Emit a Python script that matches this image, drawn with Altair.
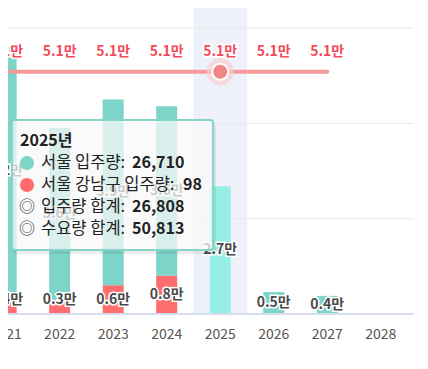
import altair as alt
import pandas as pd

# ---- data ----
years = [2021, 2022, 2023, 2024, 2025, 2026, 2027, 2028]
seoul_supply = [52000, 36000, 39000, 35600, 26710, 4600, 3800, 0]
gangnam_supply = [4000, 3000, 6000, 8000, 98, 0, 0, 0]
demand_years = [2021, 2022, 2023, 2024, 2025, 2026, 2027]
demand = [50813, 50813, 50813, 50813, 50813, 50813, 50813]
highlight_year = 2025
grid_values = [20000, 40000, 60000]

tip_title = "2025년"
tip_labels = ["서울 입주량: ", "서울 강남구 입주량: ", "입주량 합계: ", "수요량 합계: "]
tip_values = ["26,710", "98", "26,808", "50,813"]
tip_markers = ["dot", "dot", "ring", "ring"]
tip_colors = ["#7dd4c9", "#ff6b6b", "#333333", "#333333"]

FONT = "Noto Sans CJK KR"
W, H = 406, 306
TEAL = "#7dd4c9"
TEAL_HI = "#97eee4"
RED = "#ff6e6e"

bars = pd.DataFrame({"year": years, "seoul": seoul_supply, "gangnam": gangnam_supply})
dem = pd.DataFrame({"year": demand_years, "demand": demand})
grid = pd.DataFrame({"v": grid_values})
hl = pd.DataFrame({"year": [highlight_year]})

xs = alt.Scale(domain=[2021.128, 2028.528], nice=False, zero=False)
ys = alt.Scale(domain=[0, 64200], nice=False)


def XQ(field):
    return alt.X(field, scale=xs, axis=None)


def YQ(field):
    return alt.Y(field, scale=ys, axis=None)


band = alt.Chart(hl).transform_calculate(
    x0="datum.year - 0.5", x1="datum.year + 0.5"
).mark_rect(color="#eef1fa").encode(
    x=XQ("x0:Q"), x2="x1:Q", y=alt.value(0), y2=alt.value(H)
)

gridlines = alt.Chart(grid).mark_rule(color="#e9e9e9", strokeWidth=1).encode(
    y=YQ("v:Q"), x=alt.value(0), x2=alt.value(W)
)

base = alt.Chart(bars).transform_calculate(
    top="datum.gangnam + datum.seoul",
    tmid="datum.gangnam + datum.seoul / 2",
    rmid="max(datum.gangnam / 2, 3000)",
    tlab="format(datum.seoul / 10000, '.1f') + '만'",
    rlab="format(datum.gangnam / 10000, '.1f') + '만'",
)

teal_bars = base.mark_bar(size=21, clip=True).encode(
    x=XQ("year:Q"),
    y=YQ("gangnam:Q"),
    y2="top:Q",
    color=alt.condition(alt.datum.year == highlight_year, alt.value(TEAL_HI), alt.value(TEAL)),
)
red_bars = base.mark_bar(size=21, clip=True, color=RED).encode(
    x=XQ("year:Q"), y=YQ("gangnam:Q")
)

baseline = alt.Chart(hl).mark_rule(color="#d6ddf0", strokeWidth=2).encode(
    y=alt.value(H), x=alt.value(0), x2=alt.value(W)
)

teal_src = base.transform_filter("datum.seoul > 1000")
red_src = base.transform_filter("datum.gangnam > 1000")
lab_layers = []
for src, yf, tf in [(teal_src, "tmid:Q", "tlab:N"), (red_src, "rmid:Q", "rlab:N")]:
    lab_layers.append(src.mark_text(font=FONT, fontSize=14, fontWeight="bold", color="white",
                                    stroke="white", strokeWidth=3, baseline="middle").encode(
        x=XQ("year:Q"), y=YQ(yf), text=tf))
    lab_layers.append(src.mark_text(font=FONT, fontSize=14, fontWeight="bold", color="#4a4a4a",
                                    baseline="middle").encode(
        x=XQ("year:Q"), y=YQ(yf), text=tf))

dbase = alt.Chart(dem).transform_calculate(lab="format(datum.demand / 10000, '.1f') + '만'")
dline = dbase.mark_line(color="#f59a9a", strokeWidth=4, strokeCap="round", clip=True).encode(
    x=XQ("year:Q"), y=YQ("demand:Q")
)
dpt = dbase.transform_filter(alt.datum.year == highlight_year)
halo_pt = dpt.mark_circle(size=729, color="#f9cfcf", opacity=0.7).encode(
    x=XQ("year:Q"), y=YQ("demand:Q"))
inner_pt = dpt.mark_point(shape="circle", size=256, filled=True, fill="#f28686", stroke="white",
                          strokeWidth=2, opacity=1).encode(
    x=XQ("year:Q"), y=YQ("demand:Q"))
dlab_h = dbase.mark_text(font=FONT, fontSize=14, fontWeight="bold", color="white", stroke="white",
                         strokeWidth=3, dy=-20, baseline="middle").encode(
    x=XQ("year:Q"), y=YQ("demand:Q"), text="lab:N")
dlab = dbase.mark_text(font=FONT, fontSize=14, fontWeight="bold", color="#f34a5c",
                       dy=-20, baseline="middle").encode(
    x=XQ("year:Q"), y=YQ("demand:Q"), text="lab:N")

xlabels = alt.Chart(bars).transform_calculate(lab="toString(datum.year)").mark_text(
    font=FONT, fontSize=14, color="#555555", baseline="middle"
).encode(x=XQ("year:Q"), y=alt.value(H + 21), text="lab:N")

# ---- tooltip overlay (fixed pixel layout) ----
one = pd.DataFrame({"k": [0]})
shadow = alt.Chart(one).mark_rect(color="#000000", opacity=0.07, cornerRadius=3).encode(
    x=alt.value(5), x2=alt.value(208), y=alt.value(115), y2=alt.value(246))
box = alt.Chart(one).mark_rect(fill="white", fillOpacity=0.72, stroke="#86d3c8", strokeWidth=2,
                               cornerRadius=3).encode(
    x=alt.value(4), x2=alt.value(205), y=alt.value(112), y2=alt.value(242))
title = alt.Chart(one).mark_text(font=FONT, fontSize=16, fontWeight="bold", color="#222222",
                                 align="left", baseline="middle", text=tip_title).encode(
    x=alt.value(12), y=alt.value(133))

tip_layers = [shadow, box, title]
for i, (lab, val, m, c) in enumerate(zip(tip_labels, tip_values, tip_markers, tip_colors)):
    yy = 155 + 22 * i
    row = pd.DataFrame({"lab": [lab], "val": [val]})
    rc = alt.Chart(row)
    if m == "dot":
        tip_layers.append(rc.mark_circle(size=200, opacity=1, color=c).encode(
            x=alt.value(19), y=alt.value(yy)))
    else:
        tip_layers.append(rc.mark_text(font=FONT, fontSize=16, color=c, baseline="middle",
                                       text="◎").encode(x=alt.value(19), y=alt.value(yy)))
    tip_layers.append(rc.mark_text(font=FONT, fontSize=16.5, color="#222222", align="left",
                                   baseline="middle").encode(
        x=alt.value(33), y=alt.value(yy), text="lab:N"))
    tip_layers.append(rc.mark_text(font=FONT, fontSize=16, fontWeight="bold", color="#222222",
                                   align="left", baseline="middle").encode(
        x=alt.value(175 if i == 1 else 124), y=alt.value(yy), text="val:N"))

chart = alt.layer(
    band, gridlines, teal_bars, red_bars, baseline, *lab_layers,
    dline, halo_pt, inner_pt, dlab_h, dlab, xlabels, *tip_layers
).properties(
    width=W, height=H,
    autosize=alt.AutoSizeParams(type="none"),
    padding={"left": 0, "top": 0, "right": 6, "bottom": 40},
).configure_view(stroke=None)

chart.save("out.html", embed_options={"renderer": "svg", "actions": False})
